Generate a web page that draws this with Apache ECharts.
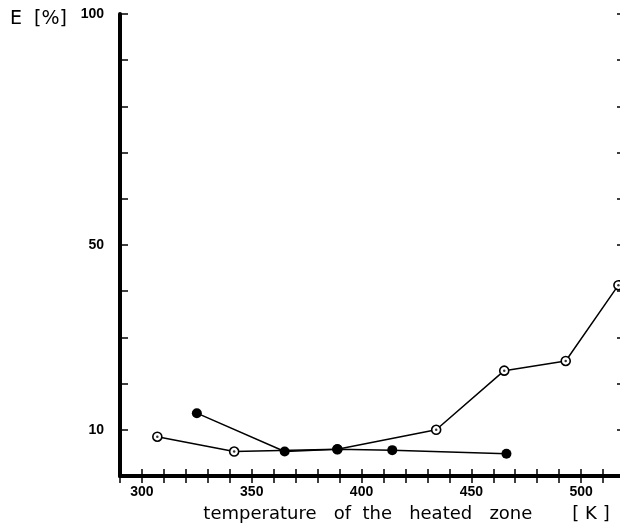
<!DOCTYPE html>
<html>
<head>
<meta charset="utf-8">
<script src="https://cdn.jsdelivr.net/npm/echarts@6/dist/echarts.min.js"></script>
<style>
  html, body { margin: 0; padding: 0; background: #fff; }
  #chart-container { width: 620px; height: 526px; }
</style>
</head>
<body>
<div id="chart-container"></div>
<script>
// open circles (with centre dot)
const openK = [307, 342, 389, 434, 465, 493, 517];
const openE = [8.5, 5.3, 5.8, 10.0, 22.8, 24.9, 41.3];
// filled circles
const fullK = [325, 365, 389, 414, 466];
const fullE = [13.6, 5.3, 5.8, 5.6, 4.8];
// labelled ticks
const xLabels = [300, 350, 400, 450, 500];
const yLabels = [10, 50, 100];

const openData = openK.map((k, i) => [k, openE[i]]);
const fullData = fullK.map((k, i) => [k, fullE[i]]);

const chart = echarts.init(document.getElementById("chart-container"));

const axisFont = { fontFamily: "Liberation Sans", fontWeight: "bold", fontSize: 14, color: "#000" };

const option = {
  animation: false,
  grid: { left: 120, top: 14, width: 505, bottom: 50, outerBoundsMode: "none", containLabel: false },
  xAxis: [
    {
      type: "value",
      min: 290,
      max: 520,
      interval: 10,
      position: "bottom",
      name: "temperature   of  the   heated   zone       [ K ]",
      nameLocation: "middle",
      nameGap: 29,
      nameTextStyle: {
        fontFamily: "DejaVu Sans", fontSize: 18, color: "#000",
        padding: [0, 0, 0, 68]
      },
      axisLine: { lineStyle: { color: "#000", width: 4 } },
      axisTick: { inside: true, length: 7, lineStyle: { color: "#000", width: 1.5 } },
      axisLabel: Object.assign({
        margin: 9,
        formatter: v => (xLabels.includes(v) ? String(v) : "")
      }, axisFont),
      splitLine: { show: false }
    },
    {
      type: "value",
      min: 290,
      max: 520,
      interval: 10,
      position: "top",
      axisLine: { lineStyle: { color: "#000", width: 3 } },
      axisTick: { inside: true, length: 7, lineStyle: { color: "#000", width: 1.5 } },
      axisLabel: { show: false },
      splitLine: { show: false }
    }
  ],
  yAxis: [
    {
      type: "value",
      min: 0,
      max: 100,
      interval: 10,
      position: "left",
      name: "E  [%]",
      nameLocation: "end",
      nameGap: -5,
      nameTextStyle: {
        fontFamily: "DejaVu Sans", fontSize: 19, color: "#000",
        align: "right", verticalAlign: "middle",
        padding: [0, 53, 0, 0]
      },
      axisLine: { show: true, lineStyle: { color: "#000", width: 4 } },
      axisTick: { show: true, inside: true, length: 8, lineStyle: { color: "#000", width: 1.5 } },
      axisLabel: Object.assign({
        margin: 16,
        formatter: v => (yLabels.includes(v) ? String(v) : "")
      }, axisFont),
      splitLine: { show: false }
    },
    {
      type: "value",
      min: 0,
      max: 100,
      interval: 10,
      position: "right",
      axisLine: { show: true, lineStyle: { color: "#000", width: 3 } },
      axisTick: { show: true, inside: true, length: 8, lineStyle: { color: "#000", width: 1.5 } },
      axisLabel: { show: false },
      splitLine: { show: false }
    }
  ],
  series: [
    {
      name: "open",
      type: "line",
      data: openData,
      z: 2,
      symbol: "circle",
      symbolSize: 9,
      lineStyle: { color: "#000", width: 1.5 },
      itemStyle: { color: "#fff", borderColor: "#000", borderWidth: 1.6 }
    },
    {
      name: "open-dot",
      type: "scatter",
      data: openData,
      z: 3,
      symbol: "circle",
      symbolSize: 2.5,
      itemStyle: { color: "#000" }
    },
    {
      name: "full",
      type: "line",
      data: fullData,
      z: 4,
      symbol: "circle",
      symbolSize: 10,
      lineStyle: { color: "#000", width: 1.5 },
      itemStyle: { color: "#000", borderColor: "#000", borderWidth: 0 }
    }
  ]
};

chart.setOption(option);
</script>
</body>
</html>
